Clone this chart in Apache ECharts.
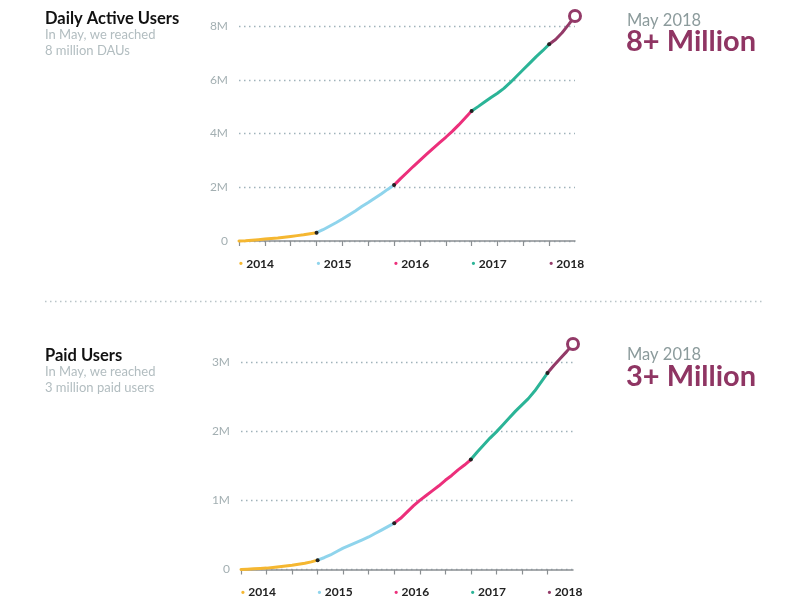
<!DOCTYPE html>
<html>
<head>
<meta charset="utf-8">
<script src="https://cdn.jsdelivr.net/npm/echarts@6/dist/echarts.min.js"></script>
<style>html,body{margin:0;padding:0;background:#fff}#c{width:800px;height:605px}</style>
</head>
<body>
<div id="c"></div>
<script>
// ---- data ----
const years = ['2014', '2015', '2016', '2017', '2018'];
const yearColors = ['#f5b731', '#8fd4ec', '#ec2f7b', '#2bb497', '#933a68'];
const yearStart = [0, 12, 24, 36, 48, 52]; // month index boundaries (Jan 2014 .. May 2018)
const months = [];
for (let y = 2014; y <= 2018; y++) for (let m = 1; m <= 12; m++) if (months.length < 53) months.push(y + '-' + (m < 10 ? '0' + m : m));

// Daily active users (millions), monthly Jan 2014 .. May 2018
const dauValues = [
  0.00, 0.01, 0.03, 0.05, 0.07, 0.09, 0.11, 0.14, 0.17, 0.20, 0.23, 0.27,
  0.31, 0.42, 0.55, 0.68, 0.82, 0.97, 1.12, 1.28, 1.43, 1.59, 1.75, 1.92,
  2.08, 2.32, 2.55, 2.78, 3.00, 3.22, 3.44, 3.65, 3.86, 4.08, 4.32, 4.58,
  4.84, 5.00, 5.17, 5.34, 5.50, 5.68, 5.90, 6.14, 6.38, 6.62, 6.86, 7.08,
  7.32, 7.50, 7.75, 8.05, 8.37
];
// Paid users (millions)
const paidValues = [
  0.00, 0.005, 0.01, 0.015, 0.02, 0.03, 0.04, 0.05, 0.06, 0.075, 0.09, 0.11,
  0.135, 0.17, 0.21, 0.26, 0.31, 0.35, 0.39, 0.43, 0.47, 0.52, 0.57, 0.62,
  0.67, 0.74, 0.83, 0.92, 1.00, 1.07, 1.14, 1.21, 1.29, 1.36, 1.44, 1.51,
  1.59, 1.70, 1.80, 1.90, 1.99, 2.09, 2.19, 2.29, 2.38, 2.47, 2.58, 2.71,
  2.84, 2.95, 3.05, 3.15, 3.26
];
const dauTicks = [0, 2, 4, 6, 8];
const paidTicks = [0, 1, 2, 3];

const FONT = 'Lato, "Open Sans", sans-serif';

function buildSeries(values, idx) {
  const out = [];
  for (let s = 0; s < years.length; s++) {
    const a = yearStart[s], b = yearStart[s + 1];
    const data = values.map((v, i) => {
      if (i < a || i > b) return null;
      const val = v * 1e6;
      if (s > 0 && i === a) return { value: val, symbol: 'circle', symbolSize: 4, itemStyle: { color: '#222' } };
      return val;
    });
    out.push({
      type: 'line', xAxisIndex: idx, yAxisIndex: idx, data,
      symbol: 'none', showSymbol: true, clip: false, z: 3 + s,
      lineStyle: { color: yearColors[s], width: 3, cap: 'round' },
      itemStyle: { color: yearColors[s] },
      emphasis: { disabled: true }, silent: true
    });
  }
  return out;
}

const rich = { t: { fontFamily: FONT, fontWeight: 'bold', fontSize: 12, color: '#222' } };
years.forEach((y, i) => { rich['d' + y] = { color: yearColors[i], fontSize: 11, fontWeight: 'bold' }; });

function xAxis(gridIndex) {
  return {
    type: 'category', gridIndex, data: months, boundaryGap: false,
    axisLine: { lineStyle: { color: '#8a8f92', width: 1.5 } },
    axisTick: { interval: (i) => i % 4 === 0 && i <= 48, length: 5, lineStyle: { color: '#8a8f92', width: 1.2 } },
    axisLabel: {
      interval: (i) => i % 12 === 0, align: 'left', margin: 17,
      formatter: (v) => { const y = v.slice(0, 4); return '{d' + y + '|•} {t|' + y + '}'; },
      rich
    },
    splitLine: { show: false }
  };
}
function yAxis(gridIndex, ticks) {
  return {
    type: 'value', gridIndex, min: 0, max: ticks[ticks.length - 1] * 1e6, interval: (ticks[1] - ticks[0]) * 1e6,
    axisLine: { show: false }, axisTick: { show: false },
    axisLabel: { color: '#a3afb2', fontSize: 12, fontFamily: FONT, margin: 11,
      formatter: (v) => v === 0 ? '0' : (v / 1e6) + 'M' },
    splitLine: { show: true, lineStyle: { color: '#9fb2ba', type: [1.5, 3.5], width: 1.3 } }
  };
}

function txt(x, y, text, size, weight, color) {
  return { type: 'text', left: x, top: y, silent: true,
    style: { text, fontSize: size, fontWeight: weight, fill: color, fontFamily: FONT } };
}

const graphics = [
  txt(45, 10, 'Daily Active Users', 16.5, 'bold', '#111'),
  txt(45, 28, 'In May, we reached', 13, 'normal', '#b2bdc0'),
  txt(45, 44, '8 million DAUs', 13, 'normal', '#b2bdc0'),
  txt(627, 12, 'May 2018', 16.5, 'normal', '#8c9b9c'),
  txt(626, 27, '8+ Million', 29, 'bold', '#8f3563'),
  txt(45, 347, 'Paid Users', 16.5, 'bold', '#111'),
  txt(45, 365.5, 'In May, we reached', 13, 'normal', '#b2bdc0'),
  txt(45, 381.5, '3 million paid users', 13, 'normal', '#b2bdc0'),
  txt(627, 346, 'May 2018', 16.5, 'normal', '#8c9b9c'),
  txt(626, 362, '3+ Million', 29, 'bold', '#8f3563'),
  { type: 'line', silent: true, shape: { x1: 45, y1: 301.5, x2: 762, y2: 301.5 },
    style: { stroke: '#b9c4c8', lineWidth: 1.3, lineDash: [1.5, 3.5] } }
];

const chart = echarts.init(document.getElementById('c'));
chart.setOption({
  animation: false,
  backgroundColor: '#fff',
  grid: [
    { left: 239, right: 225, top: 26, bottom: 605 - 241 },
    { left: 241, right: 227, top: 362, bottom: 605 - 569.5 }
  ],
  xAxis: [xAxis(0), xAxis(1)],
  yAxis: [yAxis(0, dauTicks), yAxis(1, paidTicks)],
  series: [...buildSeries(dauValues, 0), ...buildSeries(paidValues, 1)],
  graphic: graphics
});

// end-point rings, positioned through the chart's own scales
const last = yearStart[yearStart.length - 1];
[[dauValues, 0], [paidValues, 1]].forEach(([vals, gi]) => {
  const p = chart.convertToPixel({ gridIndex: gi }, [months[last], vals[last] * 1e6]);
  graphics.push({ type: 'circle', silent: true, z: 100, shape: { cx: p[0], cy: p[1], r: 5.5 },
    style: { fill: '#fff', stroke: yearColors[4], lineWidth: 3 } });
});
chart.setOption({ graphic: graphics });
</script>
</body>
</html>
